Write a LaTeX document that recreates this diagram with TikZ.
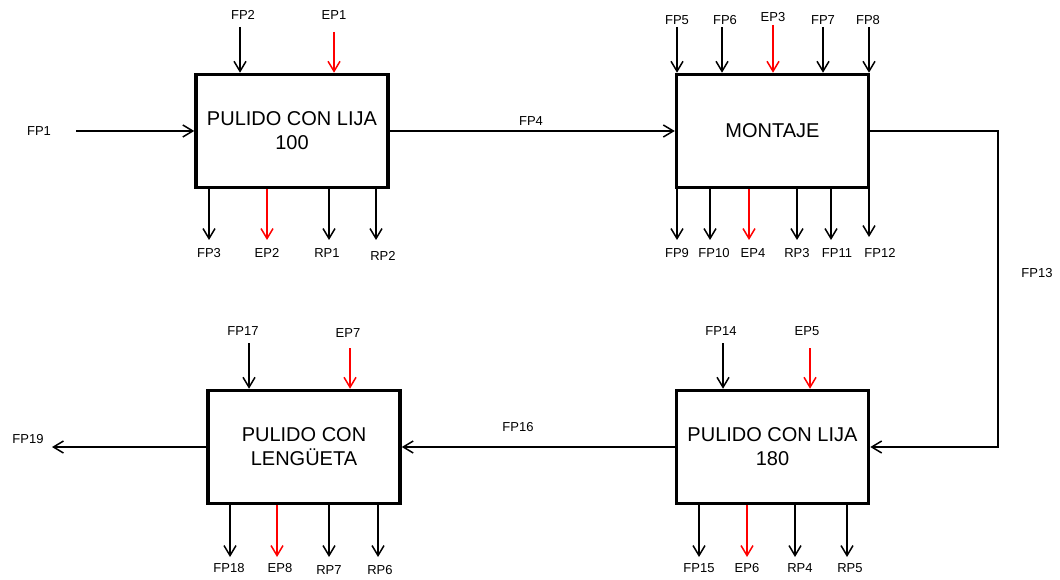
\documentclass[tikz,border=0pt]{standalone}
\usepackage{fontspec}
\setmainfont{Liberation Sans}
\usetikzlibrary{arrows.meta}
\definecolor{flowred}{RGB}{255,0,0}
\begin{document}
\begin{tikzpicture}[x=1bp,y=-1bp,
  proc/.style={draw, line width=3.5bp, minimum width=192bp, minimum height=113bp,
    inner sep=0pt, align=center, font=\fontsize{20bp}{24bp}\selectfont},
  lbl/.style={font=\fontsize{13bp}{15bp}\selectfont, inner sep=0pt},
  flow/.style={line width=1.5bp, -{Straight Barb[length=10bp,width=12bp,line width=1.5bp]}},
  eflow/.style={flow, draw=flowred},
]
\useasboundingbox (0,0) rectangle (1060,580);

% process boxes
\node[proc] (b1) at (292,131) {PULIDO CON LIJA\\100};
\node[proc] (b2) at (772.5,131) {MONTAJE};
\node[proc] (b3) at (304,447) {PULIDO CON\\LENGÜETA};
\node[proc] (b4) at (772.5,447) {PULIDO CON LIJA\\180};

% main flow between processes
\coordinate (fp1s) at (76,131);
\draw[flow] (fp1s) -- (fp1s -| b1.west);
\node[lbl] (lfp1) at (39,131) {FP1};
\draw[flow] (b1.east) -- (b2.west);
\node[lbl] (lfp4) at (531,121) {FP4};
\coordinate (c13) at (998,300);
\draw[flow] (b2.east) -| (c13) |- (b4.east);
\node[lbl] (lfp13) at (1037,273) {FP13};
\draw[flow] (b4.west) -- (b3.east);
\node[lbl] (lfp16) at (518,427) {FP16};
\coordinate (fp19e) at (52,447);
\draw[flow] (b3.west) -- (fp19e);
\node[lbl] (lfp19) at (28,439) {FP19};

% inputs from above: name / x / y start / style / box
\foreach \n/\x/\y/\s/\b in {
  fp2/240/27/flow/b1, ep1/334/32/eflow/b1,
  fp5/677/27/flow/b2, fp6/722/27/flow/b2, ep3/773/25/eflow/b2,
  fp7/823/27/flow/b2, fp8/869/27/flow/b2,
  fp14/723/343/flow/b4, ep5/810/348/eflow/b4,
  fp17/249/343/flow/b3, ep7/350/348/eflow/b3}
{
  \coordinate (\n) at (\x,\y);
  \draw[\s] (\n) -- (\n |- \b.north);
}

% outputs below: name / x / y end / style / box
\foreach \n/\x/\y/\s/\b in {
  fp3/209/240/flow/b1, ep2/267/240/eflow/b1, rp1/329/240/flow/b1, rp2/376/240/flow/b1,
  fp9/677/240/flow/b2, fp10/710/240/flow/b2, ep4/749/240/eflow/b2,
  rp3/797/240/flow/b2, fp11/831/240/flow/b2, fp12/869/237/flow/b2,
  fp15/699/557/flow/b4, ep6/747/557/eflow/b4, rp4/795/557/flow/b4, rp5/847/557/flow/b4,
  fp18/230/557/flow/b3, ep8/277/557/eflow/b3, rp7/329/557/flow/b3, rp6/378/557/flow/b3}
{
  \coordinate (\n) at (\x,\y);
  \draw[\s] (\n |- \b.south) -- (\n);
}

% labels
\foreach \n/\x/\y/\t in {
  fp2/243/15/FP2, ep1/334/15/EP1,
  fp3/209/253/FP3, ep2/267/253/EP2, rp1/327/253/RP1, rp2/383/256/RP2,
  fp5/677/20/FP5, fp6/725/20/FP6, ep3/773/17/EP3, fp7/823/20/FP7, fp8/868/20/FP8,
  fp9/677/253/FP9, fp10/714/253/FP10, ep4/753/253/EP4, rp3/797/253/RP3,
  fp11/837/253/FP11, fp12/880/253/FP12,
  fp14/721/331/FP14, ep5/807/331/EP5,
  fp15/699/568/FP15, ep6/747/568/EP6, rp4/800/568/RP4, rp5/850/568/RP5,
  fp17/243/331/FP17, ep7/348/333/EP7,
  fp18/229/568/FP18, ep8/280/568/EP8, rp7/329/570/RP7, rp6/380/570/RP6}
{
  \node[lbl] (l\n) at (\x,\y) {\t};
}
\end{tikzpicture}
\end{document}
